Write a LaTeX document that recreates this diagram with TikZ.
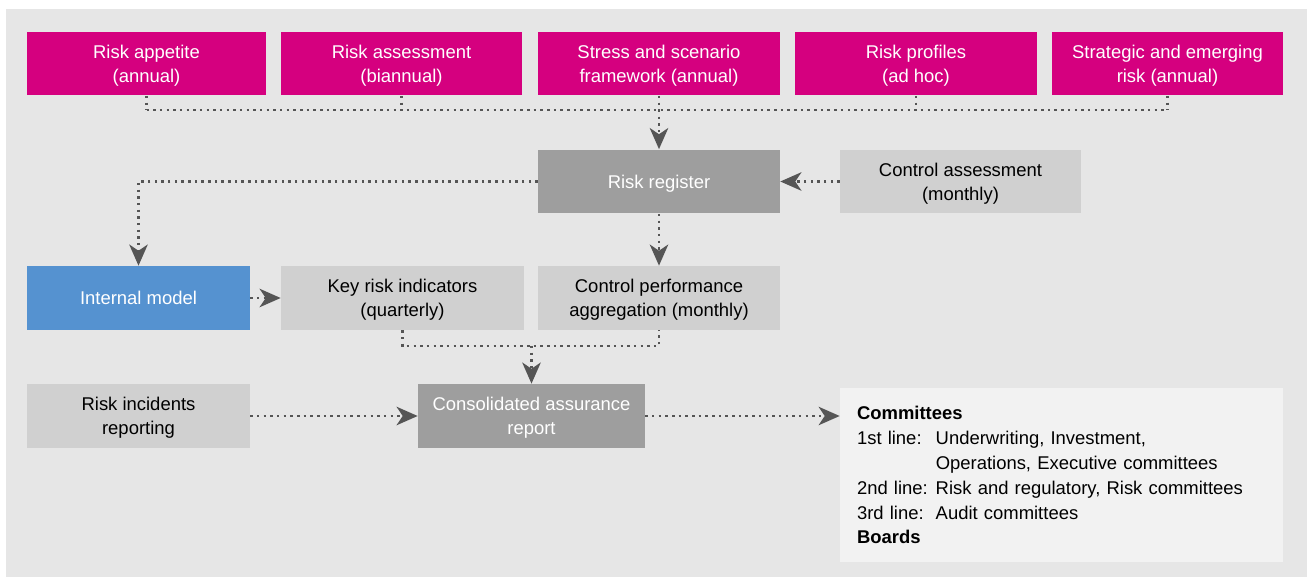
\documentclass[tikz,border=0pt]{standalone}
\usepackage{fontspec}
\setmainfont{Liberation Sans}
\usetikzlibrary{arrows.meta}

\definecolor{bgcol}{HTML}{E6E6E6}
\definecolor{magbox}{HTML}{D5007F}
\definecolor{bluebox}{HTML}{5592D0}
\definecolor{darkbox}{HTML}{9E9E9E}
\definecolor{lightbox}{HTML}{D0D0D0}
\definecolor{notebox}{HTML}{F2F2F2}
\definecolor{linecol}{HTML}{555555}

\begin{document}
\begin{tikzpicture}[x=0.02cm, y=-0.02cm,
        every node/.style={font=\fontsize{10.5}{13.6}\selectfont, align=center, inner sep=0pt},
        box/.style={minimum height=1.28cm, text depth=0pt},
        magenta/.style={box, fill=magbox, text=white},
        darkgray/.style={box, fill=darkbox, text=white},
        lightgray/.style={box, fill=lightbox, text=black},
        dotline/.style={linecol, line width=1.4pt, dash pattern=on 1.4pt off 2.4pt},
        dotarrow/.style={dotline, -{Stealth[length=12pt, width=10.5pt, inset=3.5pt]}}]

        \useasboundingbox (0,0) rectangle (1309,577);
        \fill[bgcol] (6,9) rectangle (1307,577);

        % top row
        \node[magenta, minimum width=4.78cm] (ra) at (146.5,63.5) {Risk appetite\\(annual)};
        \node[magenta, minimum width=4.82cm] (rs) at (401.5,63.5) {Risk assessment\\(biannual)};
        \node[magenta, minimum width=4.84cm] (ss) at (659,63.5) {Stress and scenario\\framework (annual)};
        \node[magenta, minimum width=4.84cm] (rp) at (916,63.5) {Risk profiles\\(ad hoc)};
        \node[magenta, minimum width=4.62cm] (se) at (1167.5,63.5) {Strategic and emerging\\risk (annual)};
        \coordinate (bus) at (0,110);

        % register row
        \node[darkgray, minimum width=4.84cm] (reg) at (659,181.5) {Risk register};
        \node[lightgray, minimum width=4.82cm] (ca) at (960.5,181.5) {Control assessment\\(monthly)};

        % middle row
        \node[box, fill=bluebox, text=white, minimum width=4.46cm] (im) at (138.5,298) {Internal model};
        \node[lightgray, minimum width=4.86cm] (kri) at (402.5,298) {Key risk indicators\\(quarterly)};
        \node[lightgray, minimum width=4.84cm] (cpa) at (659,298) {Control performance\\aggregation (monthly)};
        \coordinate (join) at (0,346);

        % bottom row
        \node[lightgray, minimum width=4.46cm] (rir) at (138.5,416) {Risk incidents\\reporting};
        \node[darkgray, minimum width=4.54cm] (car) at (531.5,416) {Consolidated assurance\\report};
        \node[fill=notebox, align=left, inner xsep=0.34cm, text width=8.18cm, minimum height=3.48cm,
              font=\fontsize{10.5}{14.2}\selectfont] (com) at (1061.5,475)
            {\textbf{Committees}\\
             \makebox[44.8pt][l]{1st line:}Underwriting, Investment,\\
             \makebox[44.8pt][l]{}Operations, Executive committees\\
             \makebox[44.8pt][l]{2nd line:}Risk and regulatory, Risk committees\\
             \makebox[44.8pt][l]{3rd line:}Audit committees\\
             \textbf{Boards}};

        % connectors
        \foreach \n in {ra,rs,ss,rp,se}
            \draw[dotline] (\n.south) -- (\n.south |- bus);
        \draw[dotline] (ra.south |- bus) -- (se.south |- bus);
        \draw[dotarrow] (ss.south |- bus) -- (reg.north);
        \draw[dotarrow] (ca) -- (reg);
        \draw[dotarrow] (reg.west) -| (im.north);
        \draw[dotarrow] (reg) -- (cpa);
        \draw[dotarrow] (im) -- (kri);
        \draw[dotline] (kri.south) -- (kri.south |- join) -| (cpa.south);
        \draw[dotarrow] (car.north |- join) -- (car.north);
        \draw[dotarrow] (rir) -- (car);
        \draw[dotarrow] (car.east) -- (car.east -| com.west);
    \end{tikzpicture}
\end{document}
